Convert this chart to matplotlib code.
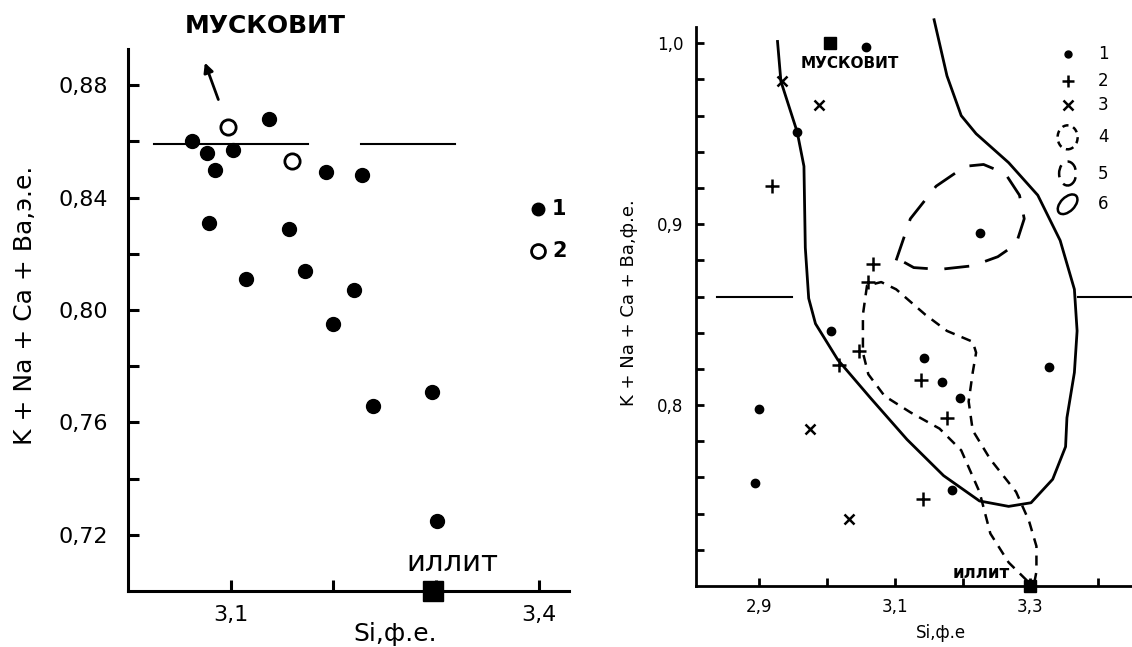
import matplotlib.pyplot as plt
from matplotlib.patches import Ellipse
from matplotlib.transforms import ScaledTranslation

# left panel: type 1 (filled) and type 2 (open)
left_x1 = [3.062, 3.077, 3.085, 3.102, 3.079, 3.137, 3.115, 3.193, 3.228,
           3.157, 3.172, 3.220, 3.200, 3.239, 3.296, 3.301]
left_y1 = [0.860, 0.856, 0.850, 0.857, 0.831, 0.868, 0.811, 0.849, 0.848,
           0.829, 0.814, 0.807, 0.795, 0.766, 0.771, 0.725]
left_x2 = [3.097, 3.160]
left_y2 = [0.865, 0.853]

# right panel points
r_x1 = [3.058, 2.956, 3.006, 3.143, 3.169, 3.196, 3.226, 3.327, 2.899, 2.894, 3.185]
r_y1 = [0.998, 0.951, 0.841, 0.826, 0.813, 0.804, 0.895, 0.821, 0.798, 0.757, 0.753]
r_x2 = [2.919, 3.068, 3.061, 3.047, 3.017, 3.138, 3.177, 3.141]
r_y2 = [0.921, 0.878, 0.868, 0.830, 0.822, 0.814, 0.793, 0.748]
r_x3 = [2.933, 2.988, 2.975, 3.032]
r_y3 = [0.979, 0.966, 0.787, 0.737]

# contour 6 (solid)
c6_x = [2.927, 2.932, 2.956, 2.966, 2.968, 2.973, 2.983, 3.016, 3.064, 3.118,
        3.172, 3.225, 3.268, 3.301, 3.333, 3.352, 3.354, 3.365, 3.369, 3.365,
        3.344, 3.311, 3.268, 3.220, 3.198, 3.177, 3.158]
c6_y = [1.001, 0.979, 0.951, 0.932, 0.887, 0.859, 0.845, 0.825, 0.804, 0.781,
        0.761, 0.747, 0.744, 0.746, 0.759, 0.777, 0.793, 0.818, 0.841, 0.864,
        0.891, 0.916, 0.934, 0.950, 0.960, 0.982, 1.013]
# contour 5 (long dash)
c5_x = [3.102, 3.123, 3.161, 3.204, 3.231, 3.263, 3.284, 3.291, 3.279, 3.252,
        3.215, 3.166, 3.128, 3.104]
c5_y = [0.880, 0.903, 0.921, 0.932, 0.933, 0.928, 0.916, 0.903, 0.889, 0.882,
        0.877, 0.875, 0.876, 0.881]
# contour 4 (short dash)
c4_x = [3.295, 3.268, 3.241, 3.225, 3.198, 3.166, 3.123, 3.085, 3.061, 3.053,
        3.053, 3.059, 3.080, 3.102, 3.145, 3.177, 3.215, 3.220, 3.215, 3.209,
        3.215, 3.241, 3.279, 3.298, 3.309, 3.309, 3.306]
c4_y = [0.703, 0.713, 0.729, 0.752, 0.775, 0.787, 0.796, 0.805, 0.817, 0.829,
        0.850, 0.866, 0.868, 0.864, 0.850, 0.841, 0.835, 0.829, 0.818, 0.802,
        0.786, 0.770, 0.752, 0.736, 0.722, 0.708, 0.702]

plt.rcParams['font.family'] = ['DejaVu Sans']
fig = plt.figure(figsize=(11.32, 6.47), dpi=100)


def style_axes(ax, lw):
    for s in ['top', 'right']:
        ax.spines[s].set_visible(False)
    for s in ['left', 'bottom']:
        ax.spines[s].set_linewidth(lw)
    ax.tick_params(direction='in', length=8, width=lw, pad=14)


# ---- left panel ----
ax1 = fig.add_axes([0.113, 0.0866, 0.390, 0.838])
style_axes(ax1, 2.2)
ax1.set_xlim(3.0, 3.43)
ax1.set_ylim(0.70, 0.893)
ax1.set_xticks([3.1, 3.2, 3.3, 3.4])
ax1.set_xticklabels(['3,1', '', '', '3,4'], fontsize=16)
ax1.tick_params(axis='x', pad=10)
yt = [0.72, 0.74, 0.76, 0.78, 0.80, 0.82, 0.84, 0.86, 0.88]
ax1.set_yticks(yt)
ax1.set_yticklabels([('%.2f' % v).replace('.', ',') if i % 2 == 0 else ''
                     for i, v in enumerate(yt)], fontsize=16)
fig.text(25 / 1132, 1 - 305 / 647, 'K + Na + Ca + Ba,э.е.', fontsize=18,
         rotation=90, ha='center', va='center')
fig.text(395 / 1132, 1 / 647, 'Si,ф.е.', fontsize=18, ha='center', va='bottom')

ax1.plot([3.025, 3.175], [0.859, 0.859], color='black', lw=1.5)
ax1.plot([3.227, 3.319], [0.859, 0.859], color='black', lw=1.5)
ax1.plot(left_x1, left_y1, 'o', color='black', ms=10, clip_on=False)
ax1.plot(left_x2, left_y2, 'o', mfc='white', mec='black', mew=2, ms=11, clip_on=False)
ax1.plot([3.297], [0.70], 's', color='black', ms=15, clip_on=False, zorder=5)
ax1.text(3.316, 0.705, 'иллит', fontsize=21, ha='center', va='bottom')
ax1.annotate('', xy=(3.074, 0.889), xytext=(3.089, 0.874),
             arrowprops=dict(arrowstyle='-|>', color='black', lw=2, mutation_scale=14),
             annotation_clip=False)
ax1.text(3.134, 0.901, 'МУСКОВИТ', fontsize=18, ha='center', va='center',
         fontweight='bold')
ax1.plot([3.399], [0.836], 'o', color='black', ms=9, clip_on=False)
ax1.text(3.413, 0.836, '1', fontsize=15, va='center', fontweight='bold')
ax1.plot([3.399], [0.821], 'o', mfc='white', mec='black', mew=2, ms=10, clip_on=False)
ax1.text(3.413, 0.821, '2', fontsize=15, va='center', fontweight='bold')

# ---- right panel ----
ax2 = fig.add_axes([0.615, 0.0943, 0.385, 0.864])
style_axes(ax2, 2.0)
ax2.tick_params(length=6, pad=9)
ax2.set_xlim(2.807, 3.45)
ax2.set_ylim(0.70, 1.009)
ax2.set_xticks([2.9, 3.0, 3.1, 3.2, 3.3, 3.4])
ax2.set_xticklabels(['2,9', '', '3,1', '', '3,3', ''], fontsize=12)
ryt = [round(0.72 + 0.02 * i, 2) for i in range(15)]
ax2.set_yticks(ryt)
ax2.set_yticklabels([('%.1f' % v).replace('.', ',') if abs(v * 10 - round(v * 10)) < 1e-6 else ''
                     for v in ryt], fontsize=12)
fig.text(629 / 1132, 1 - 303 / 647, 'K + Na + Ca + Ba,ф.е.', fontsize=13,
         rotation=90, ha='center', va='center')
fig.text(941 / 1132, 1 - 633 / 647, 'Si,ф.е', fontsize=12, ha='center', va='center')

ax2.plot([2.837, 2.949], [0.860, 0.860], color='black', lw=1.5)
ax2.plot([3.370, 3.45], [0.860, 0.860], color='black', lw=1.5, clip_on=False)
ax2.plot(c6_x, c6_y, color='black', lw=2, clip_on=False)
ax2.plot(c5_x, c5_y, color='black', lw=2, dashes=(9, 6))
ax2.plot(c4_x, c4_y, color='black', lw=1.8, dashes=(4, 3), clip_on=False)
ax2.plot(r_x1, r_y1, 'o', color='black', ms=6, clip_on=False)
ax2.plot(r_x2, r_y2, '+', color='black', ms=10, mew=1.8)
ax2.plot(r_x3, r_y3, 'x', color='black', ms=7, mew=1.8)
ax2.plot([3.004, 3.30], [1.0, 0.70], 's', color='black', ms=9, clip_on=False, zorder=5)
ax2.text(3.034, 0.989, 'МУСКОВИТ', fontsize=11, ha='center', va='center', fontweight='bold')
ax2.text(3.228, 0.707, 'иллит', fontsize=12, ha='center', va='center', fontweight='bold')

# legend of right panel
leg_x = 3.355
leg_tx = 3.40
ax2.plot([leg_x], [0.994], 'o', color='black', ms=5)
ax2.plot([leg_x], [0.979], '+', color='black', ms=9, mew=1.8)
ax2.plot([leg_x], [0.966], 'x', color='black', ms=7, mew=1.8)
for lab, yy in zip(['1', '2', '3', '4', '5', '6'], [0.994, 0.979, 0.966, 0.948, 0.928, 0.911]):
    ax2.text(leg_tx, yy, lab, fontsize=12, va='center')


def leg_ellipse(yy, w, h, angle, ls):
    tr = fig.dpi_scale_trans + ScaledTranslation(leg_x, yy, ax2.transData)
    e = Ellipse((0, 0), w, h, angle=angle, fill=False, ec='black', lw=1.8,
                linestyle=ls, transform=tr, clip_on=False)
    ax2.add_patch(e)


leg_ellipse(0.948, 0.20, 0.24, 0, (0, (2.5, 2)))
leg_ellipse(0.928, 0.17, 0.24, 0, (0, (5, 3)))
leg_ellipse(0.911, 0.24, 0.14, 45, '-')

fig.savefig('out.png', dpi=100)
